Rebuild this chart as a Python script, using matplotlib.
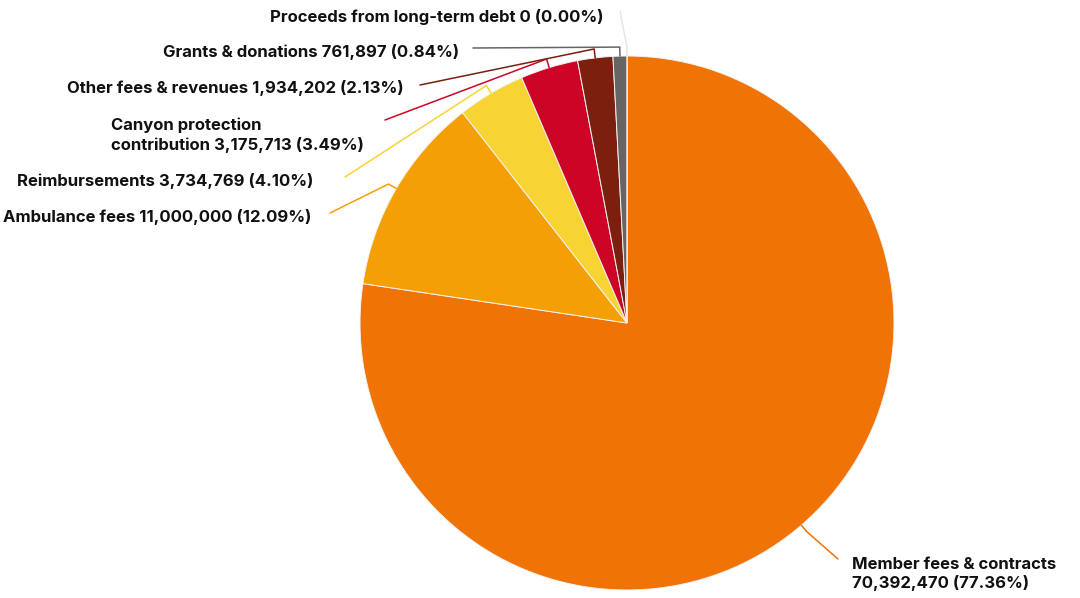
"""Revenue sources pie chart with leader-line labels."""

import matplotlib.pyplot as plt
import numpy as np

W, H = 1080, 598

sources = [
    "Member fees & contracts",
    "Ambulance fees",
    "Reimbursements",
    "Canyon protection contribution",
    "Other fees & revenues",
    "Grants & donations",
    "Proceeds from long-term debt",
]
amounts = [70392470, 11000000, 3734769, 3175713, 1934202, 761897, 0]
colors = ["#F07306", "#F59F06", "#F7D433", "#CC0526", "#7B1F0E", "#676464", "#D9D9D9"]

# label text: (text x, text y, alignment, text) in pixel space, top-left origin
label_text = [
    "Member fees & contracts\n70,392,470 (77.36%)",
    "Ambulance fees 11,000,000 (12.09%)",
    "Reimbursements 3,734,769 (4.10%)",
    "Canyon protection\ncontribution 3,175,713 (3.49%)",
    "Other fees & revenues 1,934,202 (2.13%)",
    "Grants & donations 761,897 (0.84%)",
    "Proceeds from long-term debt 0 (0.00%)",
]
label_pos = [(852, 574, "left"), (311, 217, "right"), (313, 181, "right"),
             (111, 135, "left"), (404, 88, "right"), (459, 52, "right"),
             (604, 17, "right")]
line_end = [(838, 559), (330, 213), (345, 177), (385, 120), (420, 85),
            (473, 48), (620, 11)]

CENTER = (627, H - 323)
RADIUS = 267


def to_data(x, y):
    return x, H - y


plt.rcParams["font.family"] = ["Inter", "DejaVu Sans"]

fig = plt.figure(figsize=(W / 100, H / 100), dpi=100)
ax = fig.add_axes([0, 0, 1, 1])

wedges, _ = ax.pie(
    amounts,
    colors=colors,
    startangle=90,
    counterclock=False,
    center=CENTER,
    radius=RADIUS,
    wedgeprops={"edgecolor": "#F2F2F2", "linewidth": 0.7},
)

# pie() resets the limits around its centre, so set pixel space afterwards
ax.set_xlim(0, W)
ax.set_ylim(0, H)
ax.set_aspect("equal")
ax.axis("off")

for wedge, color, text, (tx, ty, ha), (ex, ey) in zip(
    wedges, colors, label_text, label_pos, line_end
):
    mid = np.deg2rad((wedge.theta1 + wedge.theta2) / 2)
    rim = (CENTER[0] + RADIUS * np.cos(mid), CENTER[1] + RADIUS * np.sin(mid))
    elbow = (CENTER[0] + (RADIUS + 9) * np.cos(mid),
             CENTER[1] + (RADIUS + 9) * np.sin(mid))
    end = to_data(ex, ey)
    line_color = "#E6E6E6" if wedge.theta1 == wedge.theta2 else color
    ax.plot([rim[0], elbow[0], end[0]], [rim[1], elbow[1], end[1]],
            color=line_color, lw=1.1, solid_capstyle="round")

    x, y = to_data(tx, ty)
    ax.text(x, y, text, ha=ha, va="center", fontsize=12,
            fontweight="bold", color="#111111", linespacing=1.3)

fig.savefig("out.png", dpi=100)
